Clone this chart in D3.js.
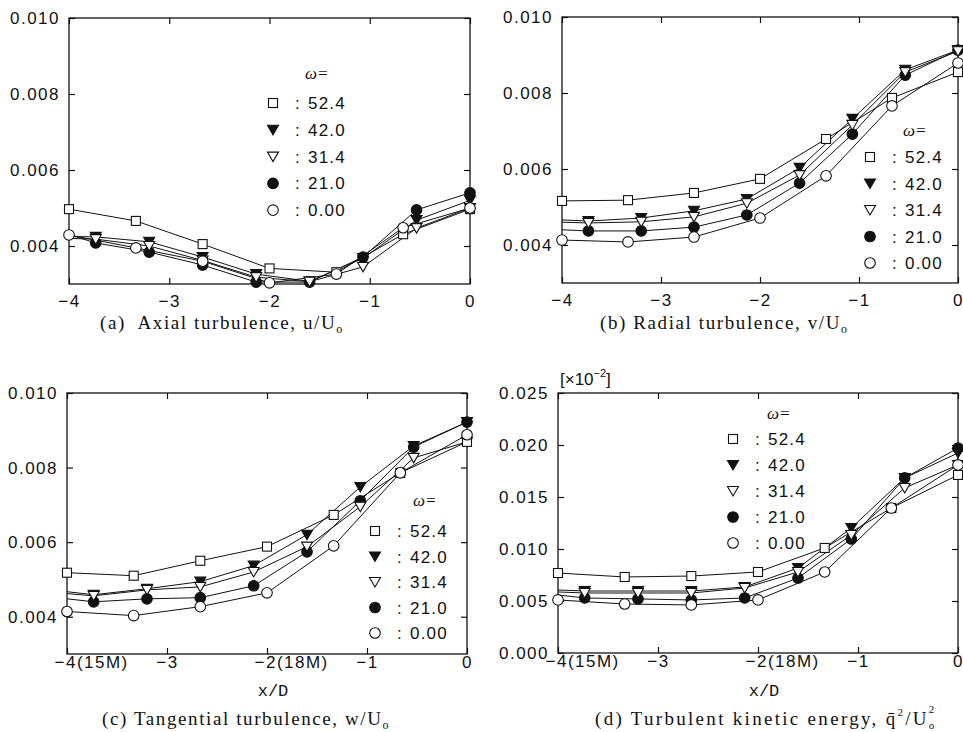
<!DOCTYPE html>
<html><head><meta charset="utf-8">
<script src="https://cdn.jsdelivr.net/npm/d3@7"></script>
<style>
body{margin:0;background:#fff;}
svg{display:block;background:#fff;}
.tick text{font-family:"Liberation Sans",Arial,sans-serif;font-size:17px;letter-spacing:1.5px;fill:#111;}
.tick line{stroke:#111;stroke-width:1.2;}
.leg{font-family:"Liberation Sans",Arial,sans-serif;font-size:17px;letter-spacing:1.2px;fill:#111;}
.omega{font-family:"Liberation Serif","Times New Roman",serif;font-size:17px;font-style:italic;fill:#111;}
.cap{font-family:"Liberation Serif","Times New Roman",serif;font-size:19px;letter-spacing:1.6px;fill:#111;}
.xt{font-family:"Liberation Mono",monospace;font-size:17px;fill:#111;}
</style></head><body>
<svg id="c" width="963" height="732"></svg>
<script>
// ---- x positions (x/D) ----
const xA = [-4, -3.333, -2.667, -2, -1.333, -0.667, 0];                    // squares & open circles
const xB = [-4, -3.733, -3.2, -2.667, -2.133, -1.6, -1.067, -0.533, 0];   // triangles & filled circles
const omegaLabels = ["52.4", "42.0", "31.4", "21.0", "0.00"];
const markerKinds = ["square", "triFilled", "triOpen", "dotFilled", "dotOpen"];

// ---- (a) axial turbulence u/Uo ----
const axial_524 = [0.00497, 0.00466, 0.00405, 0.00341, 0.00331, 0.00431, 0.00497];
const axial_420 = [0.00425, 0.00424, 0.00411, 0.00371, 0.00326, 0.00307, 0.00368, 0.00468, 0.00520];
const axial_314 = [0.00420, 0.00418, 0.00400, 0.00362, 0.00318, 0.00306, 0.00345, 0.00447, 0.00500];
const axial_210 = [0.00430, 0.00408, 0.00384, 0.00350, 0.00305, 0.00305, 0.00371, 0.00495, 0.00540];
const axial_000 = [0.00429, 0.00395, 0.00360, 0.00303, 0.00326, 0.00448, 0.00500];

// ---- (b) radial turbulence v/Uo ----
const radial_524 = [0.00516, 0.00518, 0.00537, 0.00574, 0.00679, 0.00787, 0.00855];
const radial_420 = [0.00466, 0.00463, 0.00471, 0.00490, 0.00521, 0.00603, 0.00732, 0.00861, 0.00913];
const radial_314 = [0.00460, 0.00458, 0.00461, 0.00474, 0.00510, 0.00584, 0.00716, 0.00855, 0.00910];
const radial_210 = [0.00440, 0.00437, 0.00437, 0.00447, 0.00479, 0.00563, 0.00692, 0.00847, 0.00913];
const radial_000 = [0.00413, 0.00408, 0.00421, 0.00471, 0.00582, 0.00766, 0.00879];

// ---- (c) tangential turbulence w/Uo ----
const tang_524 = [0.00518, 0.00510, 0.00550, 0.00588, 0.00673, 0.00786, 0.00869];
const tang_420 = [0.00467, 0.00459, 0.00475, 0.00494, 0.00537, 0.00620, 0.00748, 0.00858, 0.00922];
const tang_314 = [0.00462, 0.00456, 0.00472, 0.00480, 0.00520, 0.00588, 0.00695, 0.00826, 0.00869];
const tang_210 = [0.00448, 0.00440, 0.00448, 0.00451, 0.00483, 0.00574, 0.00711, 0.00855, 0.00922];
const tang_000 = [0.00414, 0.00403, 0.00427, 0.00464, 0.00590, 0.00786, 0.00888];

// ---- (d) turbulent kinetic energy q^2/Uo^2 ----
const tke_524 = [0.00769, 0.00731, 0.00740, 0.00779, 0.01010, 0.01394, 0.01712];
const tke_420 = [0.00606, 0.00596, 0.00596, 0.00596, 0.00635, 0.00817, 0.01202, 0.01683, 0.01923];
const tke_314 = [0.00587, 0.00577, 0.00577, 0.00577, 0.00625, 0.00779, 0.01135, 0.01587, 0.01808];
const tke_210 = [0.00558, 0.00529, 0.00520, 0.00510, 0.00529, 0.00721, 0.01096, 0.01683, 0.01971];
const tke_000 = [0.00510, 0.00471, 0.00462, 0.00510, 0.00779, 0.01394, 0.01808];

// ---- ticks ----
const xTicks = [-4, -3, -2, -1, 0];
const xLabelsPlain = ["\u22124", "\u22123", "\u22122", "\u22121", "0"];
const xLabelsMesh = ["\u22124(15M)", "\u22123", "\u22122(18M)", "\u22121", "0"];
const yTicksTurb = [0.004, 0.006, 0.008, 0.010];
const yLabelsTurb = ["0.004", "0.006", "0.008", "0.010"];
const yTicksTke = [0, 0.005, 0.010, 0.015, 0.020, 0.025];
const yLabelsTke = ["0.000", "0.005", "0.010", "0.015", "0.020", "0.025"];

const panels = [
  {series:[axial_524, axial_420, axial_314, axial_210, axial_000],
   fr:{x0:69, x1:470, y0:18, y1:284}, yDom:[0.003, 0.010], yT:yTicksTurb, yL:yLabelsTurb,
   xL:xLabelsPlain, xPad:11, xTitle:false,
   leg:{mx:273, my:103, dy:26.8, wx:305, wy:79}},
  {series:[radial_524, radial_420, radial_314, radial_210, radial_000],
   fr:{x0:562, x1:958, y0:17, y1:283}, yDom:[0.003, 0.010], yT:yTicksTurb, yL:yLabelsTurb,
   xL:xLabelsPlain, xPad:11, xTitle:false,
   leg:{mx:870, my:157, dy:26.5, wx:903, wy:136}},
  {series:[tang_524, tang_420, tang_314, tang_210, tang_000],
   fr:{x0:67, x1:467, y0:393, y1:654}, yDom:[0.003, 0.010], yT:yTicksTurb, yL:yLabelsTurb,
   xL:xLabelsMesh, xPad:2, xTitle:true,
   leg:{mx:375, my:531, dy:25.5, wx:413, wy:506}},
  {series:[tke_524, tke_420, tke_314, tke_210, tke_000],
   fr:{x0:558, x1:958, y0:393, y1:653}, yDom:[0, 0.025], yT:yTicksTke, yL:yLabelsTke,
   xL:xLabelsMesh, xPad:2, xTitle:true,
   leg:{mx:733, my:439, dy:26, wx:767, wy:419}}
];

const svg = d3.select("#c");

function drawMarker(g, kind, cx, cy) {
  if (kind === "square") {
    g.append("rect").attr("x", cx - 4.5).attr("y", cy - 4.5).attr("width", 9).attr("height", 9)
      .attr("fill", "#fff").attr("stroke", "#111").attr("stroke-width", 1.1);
  } else if (kind === "triFilled" || kind === "triOpen") {
    g.append("path").attr("d", `M${cx-5.5},${cy-4.5}L${cx+5.5},${cy-4.5}L${cx},${cy+5}Z`)
      .attr("fill", kind === "triFilled" ? "#111" : "#fff").attr("stroke", "#111").attr("stroke-width", 1.1);
  } else {
    g.append("circle").attr("cx", cx).attr("cy", cy).attr("r", 5.3)
      .attr("fill", kind === "dotFilled" ? "#111" : "#fff").attr("stroke", "#111").attr("stroke-width", 1.1);
  }
}

panels.forEach(p => {
  const x = d3.scaleLinear().domain([-4, 0]).range([p.fr.x0, p.fr.x1]);
  const y = d3.scaleLinear().domain(p.yDom).range([p.fr.y1, p.fr.y0]);
  const g = svg.append("g");

  // frame
  g.append("rect").attr("x", p.fr.x0).attr("y", p.fr.y0)
    .attr("width", p.fr.x1 - p.fr.x0).attr("height", p.fr.y1 - p.fr.y0)
    .attr("fill", "none").attr("stroke", "#111").attr("stroke-width", 1.3);

  // axes (inward ticks on all sides)
  const ax = g.append("g").attr("transform", `translate(0,${p.fr.y1})`)
    .call(d3.axisBottom(x).tickValues(xTicks).tickFormat((d, i) => p.xL[i])
      .tickSizeInner(-6).tickSizeOuter(0).tickPadding(p.xPad));
  ax.select(".domain").remove();
  ax.selectAll(".tick text").each(function(d, i) {
    const t = d3.select(this);
    if (p.xL[i].indexOf("(") >= 0) t.attr("text-anchor", "start").attr("x", -13);
  });
  g.append("g").attr("transform", `translate(0,${p.fr.y0})`)
    .call(d3.axisTop(x).tickValues(xTicks).tickFormat("").tickSizeInner(-6).tickSizeOuter(0))
    .select(".domain").remove();
  g.append("g").attr("transform", `translate(${p.fr.x0},0)`)
    .call(d3.axisLeft(y).tickValues(p.yT).tickFormat((d, i) => p.yL[i])
      .tickSizeInner(-6).tickSizeOuter(0).tickPadding(9))
    .select(".domain").remove();
  g.append("g").attr("transform", `translate(${p.fr.x1},0)`)
    .call(d3.axisRight(y).tickValues(p.yT).tickFormat("").tickSizeInner(-6).tickSizeOuter(0))
    .select(".domain").remove();

  // lines
  const line = d3.line().x(d => x(d[0])).y(d => y(d[1]));
  const pts = p.series.map((vals, si) => {
    const xs = (si === 0 || si === 4) ? xA : xB;
    return vals.map((v, i) => [xs[i], v]);
  });
  pts.forEach(d => g.append("path").datum(d).attr("d", line)
    .attr("fill", "none").attr("stroke", "#111").attr("stroke-width", 1));
  // markers (triangle / filled-circle runs start their markers after x/D=-4)
  const order = [3, 1, 2, 0, 4];
  order.forEach(si => {
    const start = (si === 0 || si === 4) ? 0 : 1;
    pts[si].forEach((d, i) => { if (i >= start) drawMarker(g, markerKinds[si], x(d[0]), y(d[1])); });
  });

  // legend
  g.append("text").attr("class", "omega").attr("x", p.leg.wx).attr("y", p.leg.wy).text("\u03c9=");
  omegaLabels.forEach((lab, i) => {
    const cy = p.leg.my + i * p.leg.dy;
    drawMarker(g, markerKinds[i], p.leg.mx, cy);
    g.append("text").attr("class", "leg").attr("x", p.leg.mx + 22).attr("y", cy + 6).text(":");
    g.append("text").attr("class", "leg").attr("x", p.leg.mx + 35).attr("y", cy + 6).text(lab);
  });

  // x title
  if (p.xTitle) {
    g.append("text").attr("class", "xt").attr("text-anchor", "middle")
      .attr("x", (p.fr.x0 + p.fr.x1) / 2 + 6).attr("y", 696).text("x/D");
  }
});

// captions
const cap = (xx, yy) => svg.append("text").attr("class", "cap").attr("x", xx).attr("y", yy);
let t = cap(100, 329);
t.append("tspan").text("(a)\u00a0 Axial turbulence, u/U");
t.append("tspan").attr("font-size", 12).attr("dy", 4).text("o");
t = cap(600, 329);
t.append("tspan").text("(b) Radial turbulence, v/U");
t.append("tspan").attr("font-size", 12).attr("dy", 4).text("o");
t = cap(102, 725);
t.append("tspan").text("(c) Tangential turbulence, w/U");
t.append("tspan").attr("font-size", 12).attr("dy", 4).text("o");
t = cap(595, 725);
t.style("letter-spacing", "2.3px");
t.append("tspan").text("(d) Turbulent kinetic energy, q\u0304");
t.append("tspan").attr("font-size", 11).attr("dy", -9).text("2");
t.append("tspan").attr("dy", 9).text("/U");
t.append("tspan").attr("font-size", 11).attr("dy", 4).text("o");
t.append("tspan").attr("font-size", 11).attr("dx", -8).attr("dy", -16).text("2");

// multiplier for panel (d)
const m = svg.append("text").attr("x", 560).attr("y", 385)
  .attr("font-family", "Liberation Sans, Arial, sans-serif").attr("font-size", 17).attr("fill", "#111");
m.append("tspan").text("[\u00d710");
m.append("tspan").attr("font-size", 11).attr("dy", -8).text("\u22122");
m.append("tspan").attr("dy", 8).text("]");
</script>
</body></html>
